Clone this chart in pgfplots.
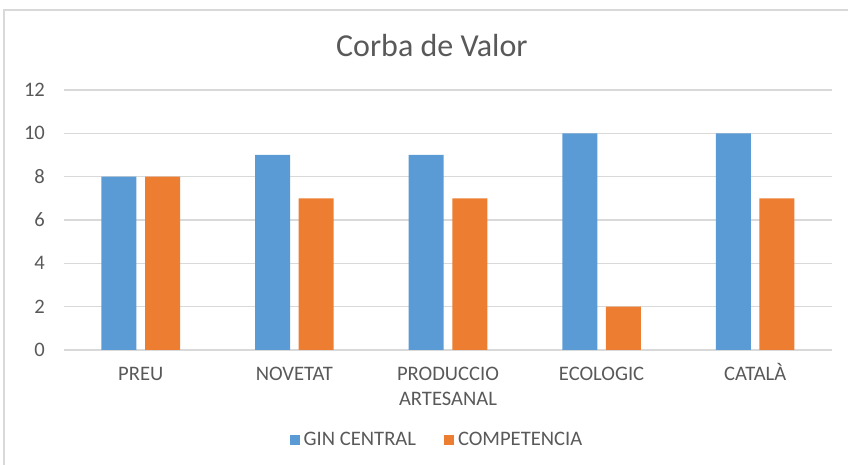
\documentclass[border=0pt]{standalone}
\usepackage{fontspec}
\setmainfont{Carlito}
\usepackage{pgfplots}
\pgfplotsset{compat=1.18}
\definecolor{cblue}{HTML}{5B9BD5}
\definecolor{corange}{HTML}{ED7D31}
\definecolor{txt}{HTML}{595959}
\definecolor{gridc}{HTML}{D9D9D9}
\begin{document}
\begin{tikzpicture}
\useasboundingbox (0,0) rectangle (424pt,232.5pt);
\draw[gridc, line width=0.75pt] (2pt,-2pt) -- (2pt,227.5pt) -- (430pt,227.5pt);
\begin{axis}[
  at={(32pt,57.5pt)}, anchor=south west,
  scale only axis, width=384pt, height=130pt,
  xmin=-0.5, xmax=4.5, ymin=0, ymax=12,
  ytick={0,2,...,12}, xtick={0,1,2,3,4},
  xticklabels={PREU, NOVETAT, {PRODUCCIO\\ARTESANAL}, ECOLOGIC, {CATAL\smash{À}}},
  axis line style={draw=none},
  major tick length=0pt,
  ymajorgrids, grid style={gridc, line width=0.6pt},
  /pgf/number format/assume math mode=true,
  tick label style={font=\fontsize{10.3}{12.5}\selectfont, text=txt},
  xticklabel style={align=center, anchor=north, yshift=-5pt},
  yticklabel style={anchor=east, xshift=-6pt},
  title={Corba de Valor},
  title style={at={(0.479,1)}, anchor=center, yshift=16pt, font=\fontsize{16}{19}\selectfont, text=txt},
  legend columns=2,
  legend style={draw=none, fill=none, at={(0.487,-0.346)}, anchor=center,
    font=\fontsize{10.3}{12.5}\selectfont, text=txt,
    /tikz/every even column/.append style={column sep=12pt}},
  legend image code/.code={\fill[#1] (0pt,-2.5pt) rectangle (5pt,2.5pt);},
]
\addplot[ybar, bar width=17.5pt, bar shift=-10.9pt, fill=cblue, draw=none] coordinates {(0,8) (1,9) (2,9) (3,10) (4,10)};
\addplot[ybar, bar width=17.5pt, bar shift=10.9pt, fill=corange, draw=none] coordinates {(0,8) (1,7) (2,7) (3,2) (4,7)};
\legend{GIN CENTRAL, COMPETENCIA}
\end{axis}
\end{tikzpicture}
\end{document}
